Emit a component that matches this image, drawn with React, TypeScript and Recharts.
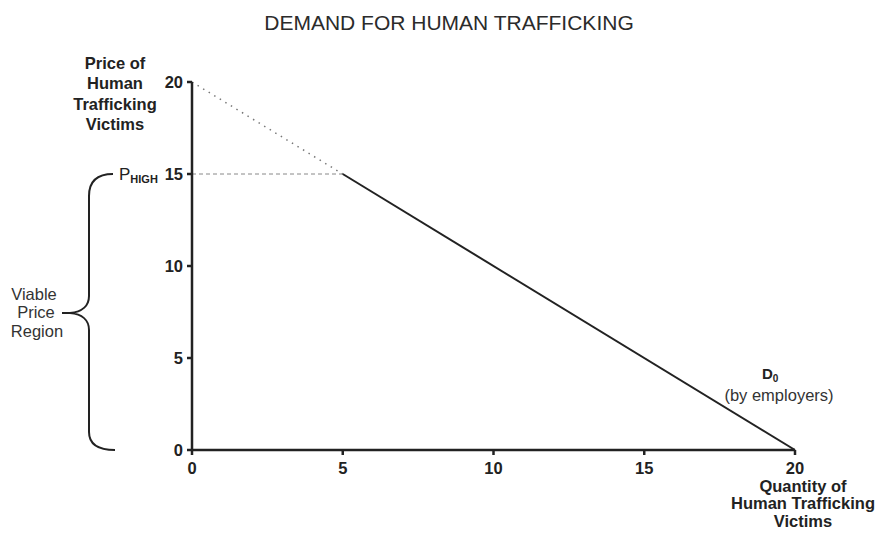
import React from "react";
import {
    LineChart,
    Line,
    XAxis,
    YAxis,
    Customized
} from "recharts";

// chart values
const quantity = [0, 5, 20];
const demandViable = [null, 15, 0];
const demandAbove = [20, 15, null];
const pHighLevel = [15, 15, null];
const xTicks = [0, 5, 10, 15, 20];
const yTicks = [0, 5, 10, 15, 20];

const data = quantity.map((q, i) => ({
    q,
    viable: demandViable[i],
    above: demandAbove[i],
    phigh: pHighLevel[i]
}));

const FONT = "'Liberation Sans', Arial, Helvetica, sans-serif";
const INK = "#222";

const Annotations = () => (
    <g fontFamily={FONT}>
        <text x={449} y={30} textAnchor="middle" fontSize={21} fill="#2b2b2b">
            DEMAND FOR HUMAN TRAFFICKING
        </text>

        {/* y axis title */}
        <g fontSize={16.5} fontWeight="bold" fill={INK} textAnchor="middle">
            <text x={115} y={69}>Price of</text>
            <text x={115} y={89}>Human</text>
            <text x={115} y={110}>Trafficking</text>
            <text x={115} y={130}>Victims</text>
        </g>

        {/* P high */}
        <text x={119} y={180} fontSize={17} fill={INK}>
            P
            <tspan fontSize={11} fontWeight="bold" dy={3}>HIGH</tspan>
        </text>

        {/* brace */}
        <path
            d="M113,174 C97,174 89,182 89,196 L89,296 C89,306 82,312 70,313 L62,313 M70,313 C82,314 89,320 89,330 L89,432 C89,444 97,450 115,450"
            fill="none"
            stroke={INK}
            strokeWidth={2}
        />
        <g fontSize={16.5} fill="#333" textAnchor="middle">
            <text x={34} y={300}>Viable</text>
            <text x={36} y={318}>Price</text>
            <text x={37} y={337}>Region</text>
        </g>

        {/* demand curve label */}
        <text x={762} y={379} fontSize={15} fontWeight="bold" fill={INK}>
            D
            <tspan fontSize={10} dy={3}>0</tspan>
        </text>
        <text x={779} y={401} fontSize={16.5} fill="#333" textAnchor="middle">
            (by employers)
        </text>

        {/* x axis title */}
        <g fontSize={16.5} fontWeight="bold" fill={INK} textAnchor="middle">
            <text x={803} y={492}>Quantity of</text>
            <text x={803} y={509}>Human Trafficking</text>
            <text x={803} y={527}>Victims</text>
        </g>
    </g>
);

export default function App() {
    return (
        <div style={{ position: "absolute", left: 0, top: 0, width: 882, height: 539, background: "#fff" }}>
            <LineChart
                width={882}
                height={539}
                data={data}
                margin={{ top: 82, right: 87, left: 152, bottom: 59 }}
            >
                <XAxis
                    dataKey="q"
                    type="number"
                    domain={[0, 20]}
                    ticks={xTicks}
                    height={30}
                    stroke={INK}
                    strokeWidth={2.5}
                    tickSize={5}
                    tickMargin={7}
                    tick={{ fill: INK, fontSize: 16.5, fontWeight: "bold", fontFamily: FONT }}
                />
                <YAxis
                    type="number"
                    domain={[0, 20]}
                    ticks={yTicks}
                    width={40}
                    stroke={INK}
                    strokeWidth={2.5}
                    tickSize={5}
                    tickMargin={4}
                    tick={{ fill: INK, fontSize: 16.5, fontWeight: "bold", fontFamily: FONT }}
                />
                <Line
                    dataKey="phigh"
                    stroke="#888"
                    strokeWidth={1}
                    strokeDasharray="4 3"
                    dot={false}
                    isAnimationActive={false}
                />
                <Line
                    dataKey="above"
                    stroke="#777"
                    strokeWidth={1.5}
                    strokeDasharray="1.5 5"
                    dot={false}
                    isAnimationActive={false}
                />
                <Line
                    dataKey="viable"
                    stroke={INK}
                    strokeWidth={2}
                    dot={false}
                    isAnimationActive={false}
                />
                <Customized component={Annotations} />
            </LineChart>
        </div>
    );
}
